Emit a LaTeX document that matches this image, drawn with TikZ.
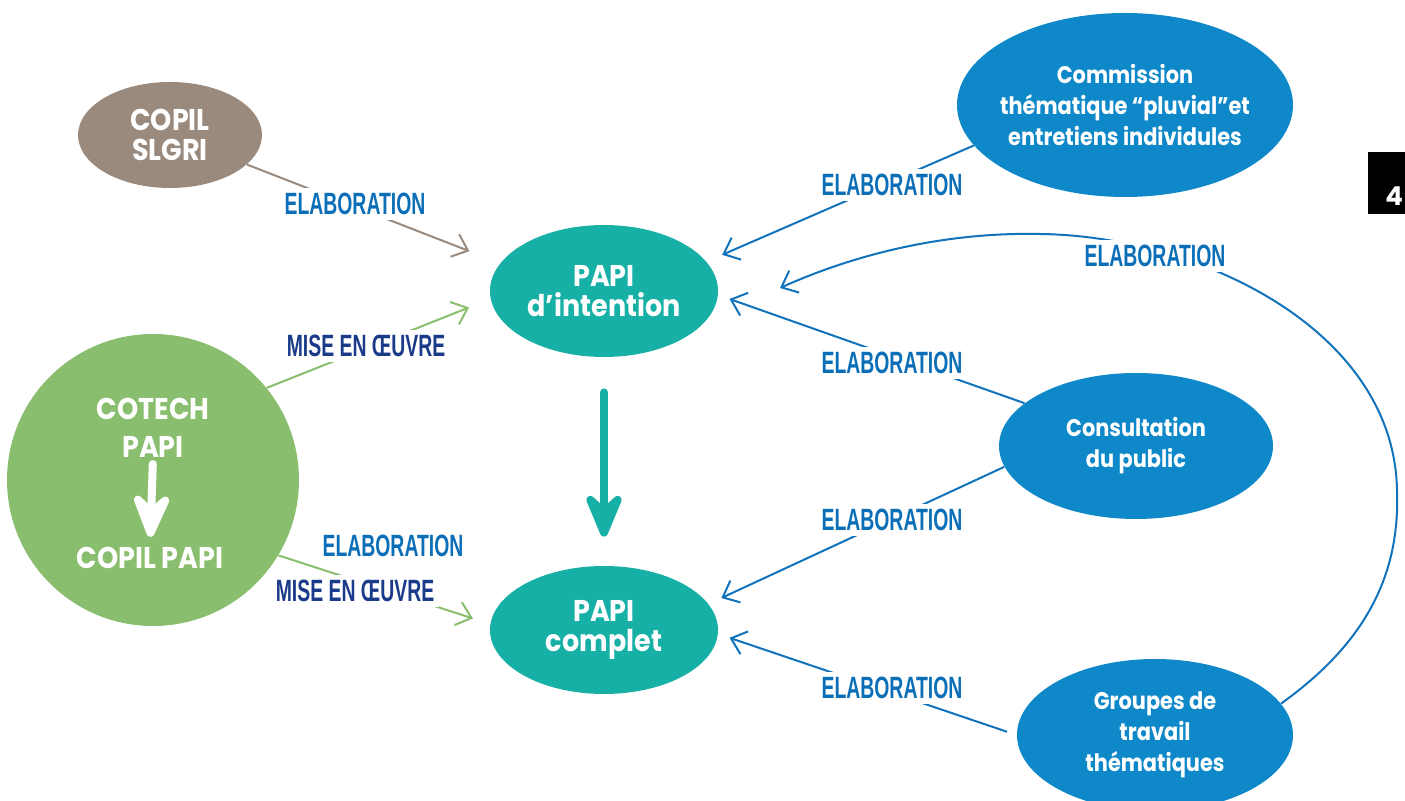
\documentclass[tikz,border=0pt]{standalone}
\usepackage{fontspec}
\setmainfont{Poppins}
\newfontfamily\bigfont[FakeStretch=0.9]{Poppins}
\newfontfamily\smallfont[FakeStretch=0.87]{Poppins}
\newfontfamily\condfont[FakeStretch=0.63]{Liberation Sans}
\usetikzlibrary{shapes.geometric,arrows.meta}
\definecolor{taupe}{HTML}{9A8A7D}
\definecolor{leaf}{HTML}{88BE6D}
\definecolor{papiteal}{HTML}{17B0A6}
\definecolor{ocean}{HTML}{0E88C8}
\definecolor{elab}{HTML}{0B6FB8}
\definecolor{navy}{HTML}{1A3A8A}
\definecolor{linkblue}{HTML}{1173BB}
\begin{document}
\begin{tikzpicture}[x=0.5pt,y=-0.5pt,
            bubble/.style={ellipse,inner sep=0pt,text=white,align=center},
            bigtext/.style={font=\bigfont\bfseries\fontsize{15}{15}\selectfont},
            smalltext/.style={font=\smallfont\bfseries\fontsize{12}{15.5}\selectfont},
            lbl/.style={fill=white,inner sep=2.5pt,text=elab,font=\condfont\bfseries\fontsize{15.4}{16}\selectfont},
            link/.style={line width=1pt,-{Straight Barb[length=7pt,width=12pt]}},
            fat/.style={line width=4pt,line cap=round,-{Stealth[length=29pt,width=24pt,inset=11pt,round]}}]
            \useasboundingbox (0,0) rectangle (1405,801);
            \clip (0,0) rectangle (1405,801);
            \node[bubble,bigtext,fill=taupe,minimum width=92pt,minimum height=53pt] (slgri) at (170,135) {COPIL\\SLGRI};
            \node[circle,fill=leaf,minimum size=146pt,inner sep=0pt] (cotech) at (153,480) {};
            \node[text=white,align=center,font=\bigfont\bfseries\fontsize{15}{19}\selectfont,inner sep=0pt] (cotechtxt) at (153,428) {COTECH\\PAPI};
            \node[text=white,bigtext,inner sep=0pt] (copilpapi) at (150,558) {COPIL PAPI};
            \node[bubble,bigtext,fill=papiteal,minimum width=114pt,minimum height=66pt] (intention) at (604,291) {PAPI\\d’intention};
            \node[bubble,bigtext,fill=papiteal,minimum width=114pt,minimum height=64pt] (complet) at (604,630) {PAPI\\complet};
            \node[bubble,fill=ocean,minimum width=168pt,minimum height=92pt] (commission) at (1125,105) {};
            \node[text=white,align=center,smalltext,inner sep=0pt] (commissiontxt) at (commission) {Commission\\thématique “pluvial”et\\entretiens individules};
            \node[bubble,smalltext,fill=ocean,minimum width=137pt,minimum height=73pt] (consultation) at (1136,446) {Consultation\\du public};
            \node[bubble,smalltext,fill=ocean,minimum width=138pt,minimum height=76pt] (groupes) at (1155,735) {Groupes de\\travail\\thématiques};
            \fill[black] (1368,152) rectangle (1420,214);
            \node[anchor=west,text=white,inner sep=0pt,font=\bfseries\fontsize{13}{13}\selectfont] (pagenum) at (1385,196) {45};
            \coordinate (curvetip) at (780,288);
            \draw[link,taupe,shorten >=16.5pt] (slgri.-21) -- (intention.165);
            \draw[link,leaf,shorten >=11.5pt] (cotech.39.5) -- (intention.184.6);
            \draw[link,leaf,shorten >=9pt] (cotech.-31) -- (complet.177.8);
            \draw[link,linkblue,shorten >=8.5pt] (commission.195.7) -- (intention.16.5);
            \draw[link,linkblue,shorten >=6pt] (consultation.159.2) -- (intention.-2.7);
            \draw[link,linkblue,shorten >=7pt] (consultation.189.7) -- (complet.14.3);
            \draw[link,linkblue,shorten <=5pt,shorten >=6pt] (groupes.180.8) -- (complet.-2.3);
            \draw[link,linkblue] (groupes.14) .. controls (1370,640) and (1400,570) .. (1397,490) .. controls (1394,330) and (1200,236) .. (1040,234) .. controls (950,232) and (860,252) .. (curvetip);
            \draw[fat,papiteal,shorten <=17.5pt,shorten >=14.5pt] (intention) -- (complet);
            \draw[fat,white,shorten <=3pt,shorten >=5pt] (cotechtxt.south) -- (copilpapi.north);
            \node[lbl] (elab1) at (355,204) {ELABORATION};
            \node[lbl,text=navy] (mise1) at (366,346) {MISE EN ŒUVRE};
            \node[lbl] (elab2) at (393,546) {ELABORATION};
            \node[lbl,text=navy] (mise2) at (355,591) {MISE EN ŒUVRE};
            \node[lbl] (elab3) at (892,185) {ELABORATION};
            \node[lbl] (elab4) at (1155,256) {ELABORATION};
            \node[lbl] (elab5) at (892,363) {ELABORATION};
            \node[lbl] (elab6) at (892,520) {ELABORATION};
            \node[lbl] (elab7) at (892,688) {ELABORATION};
            \end{tikzpicture}
\end{document}
